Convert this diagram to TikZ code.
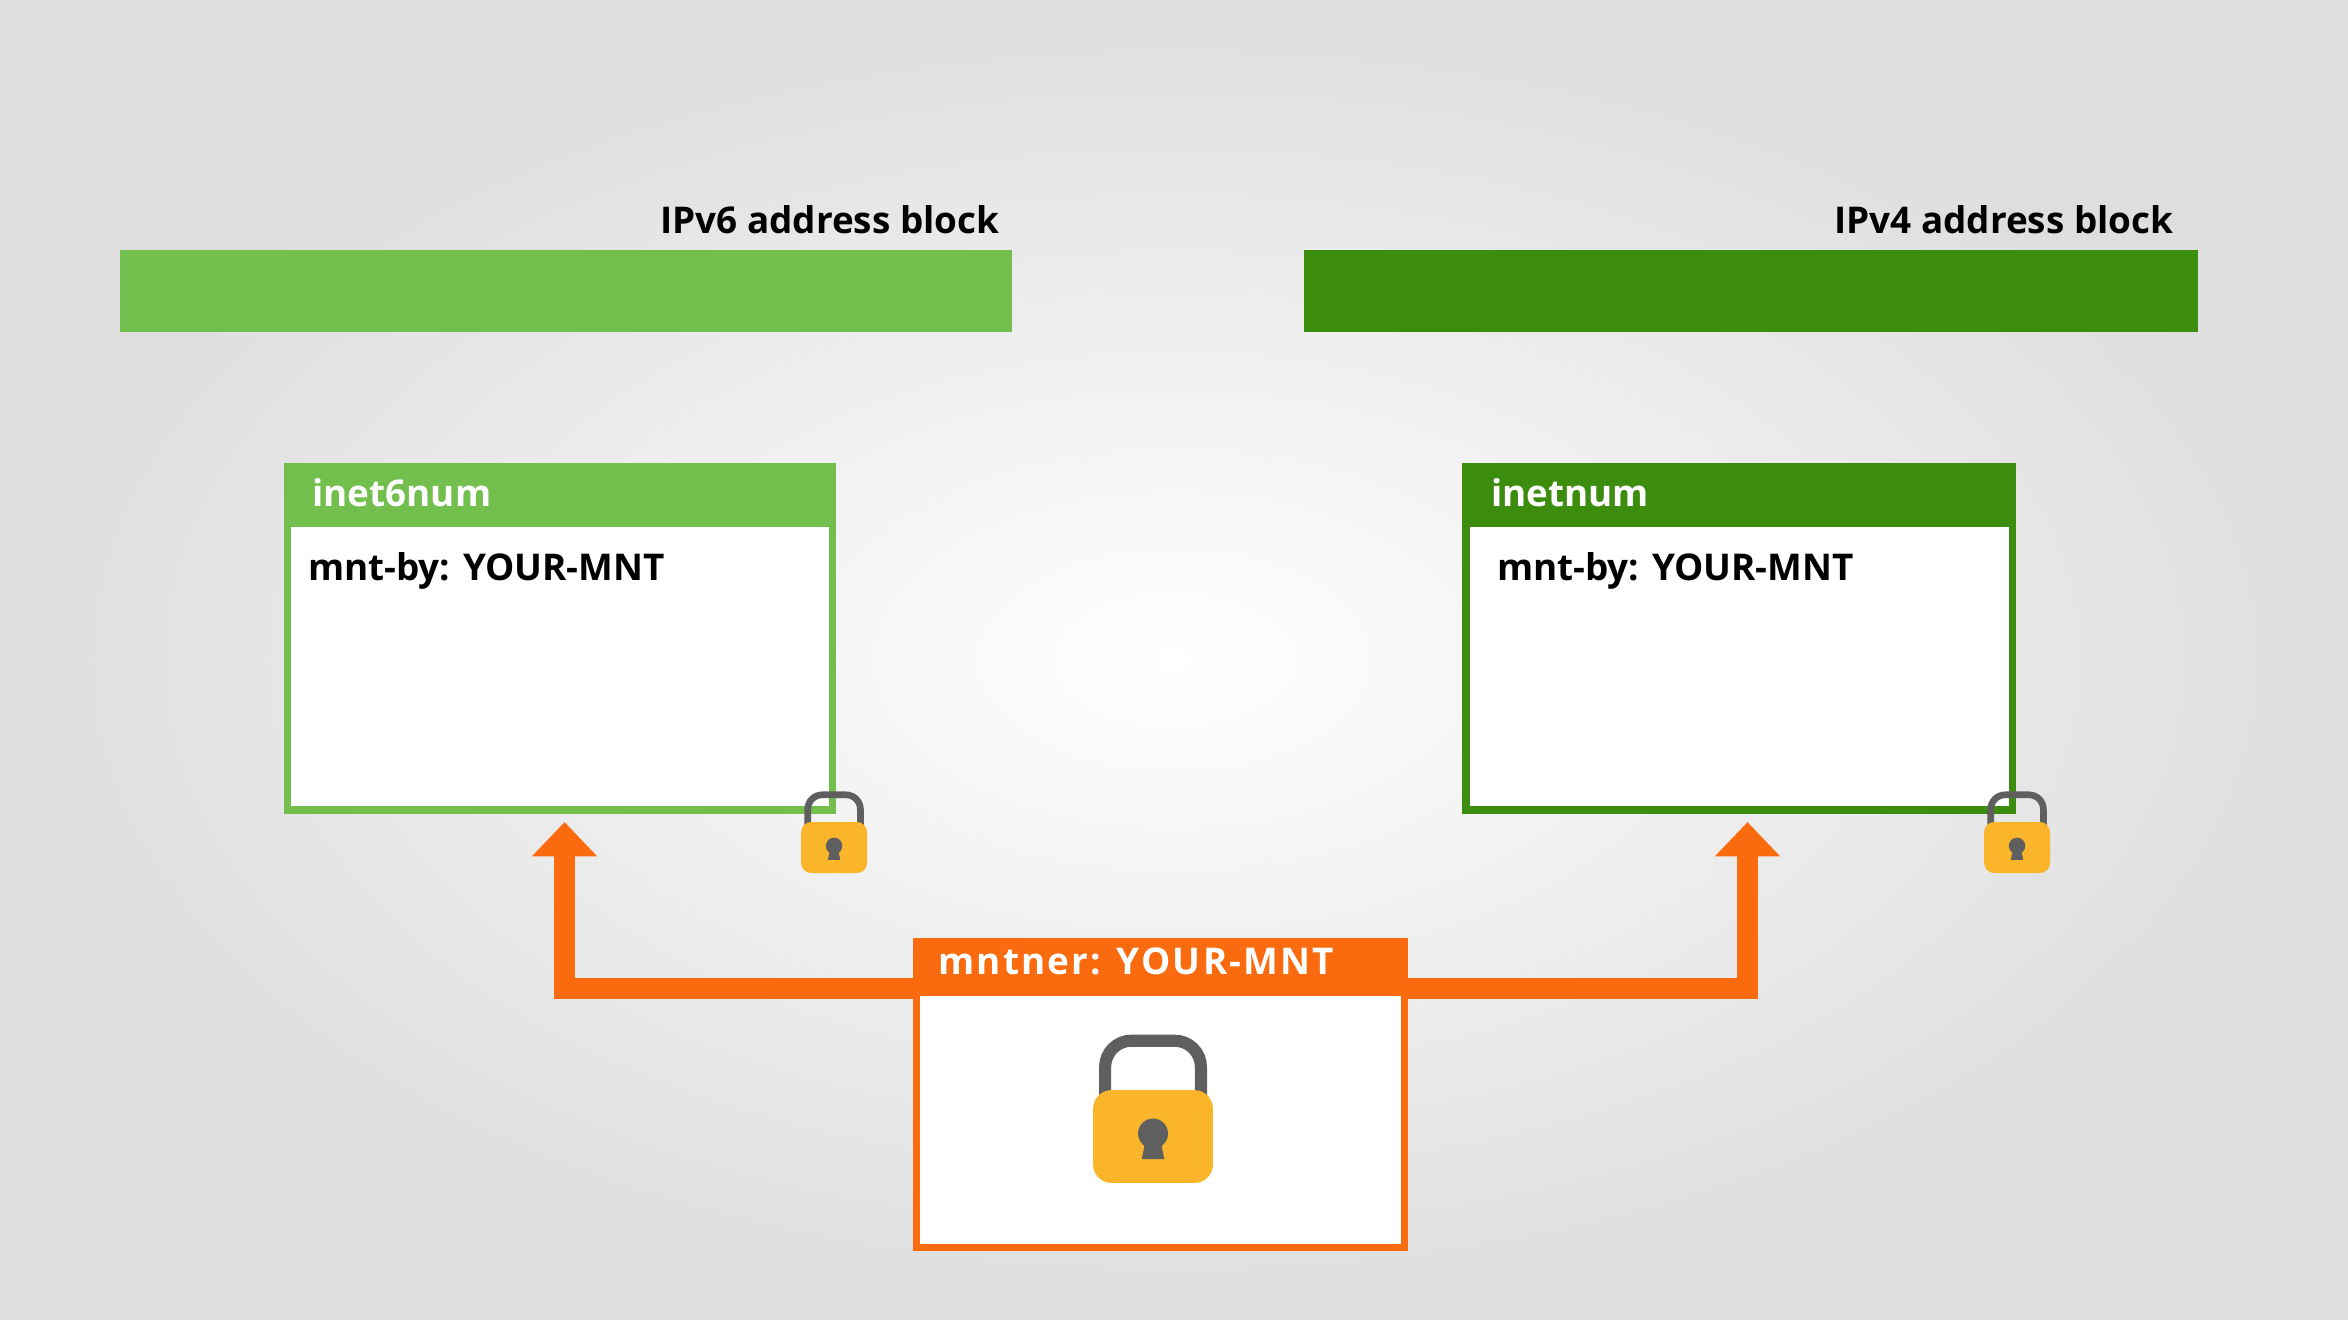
\documentclass[tikz,border=0pt]{standalone}
\usepackage{fontspec}
\setmainfont{Open Sans}
\usetikzlibrary{positioning,arrows.meta,calc}
\definecolor{lgreen}{HTML}{72BF4E}
\definecolor{dgreen}{HTML}{3C8C0E}
\definecolor{orng}{HTML}{F96B0E}
\definecolor{lockbody}{HTML}{FBB52B}
\definecolor{lockgray}{HTML}{5F5F5F}
\tikzset{
  lbl/.style={font=\bfseries\fontsize{7}{8}\selectfont, inner sep=0pt},
  body/.style={draw=#1, line width=1.4pt, fill=white, inner sep=0pt},
  link/.style={draw=orng, line width=4pt, -{Triangle[width=12pt,length=6.5pt]}},
}
% a padlock: #1 centre of body, #2 scale
\newcommand{\padlock}[2]{%
  \begin{scope}[shift={#1}, scale=#2]
    \draw[lockgray, line width=0.23pt*#2, rounded corners=0.5pt*#2] (-3.2,-2) -- (-3.2,-6.4) -- (3.2,-6.4) -- (3.2,-2);
    \fill[lockbody, rounded corners=0.35pt*#2] (-4,-3.1) rectangle (4,3.1);
    \fill[lockgray] (0,-0.2) circle[radius=1];
    \fill[lockgray] (-0.45,0) -- (0.45,0) -- (0.75,1.5) -- (-0.75,1.5) -- cycle;
  \end{scope}}
\begin{document}
\begin{tikzpicture}[x=0.1mm, y=-0.1mm]
  \shade[inner color=white, outer color=black!13] (0,0) rectangle (1568,881);
  \useasboundingbox (0,0) rectangle (1568,881);

  % address blocks
  \fill[lgreen] (80,167) rectangle (676,222);
  \fill[dgreen] (871,167) rectangle (1468,222);
  \node[lbl, anchor=base east] (v6) at (668,156) {IPv6 address block};
  \node[lbl, anchor=base east] (v4) at (1452,156) {IPv4 address block};

  % objects
  \draw[body=lgreen] (192,312) rectangle (556,541);
  \fill[lgreen] (190,310) rectangle (558,352);
  \node[lbl, white, anchor=base west] (i6) at (208,338) {inet6num};
  \node[lbl, anchor=base west] (i6m) at (205,388) {mnt-by: YOUR-MNT};
  \coordinate (i6tip) at (377,549);

  \draw[body=dgreen] (979,312) rectangle (1344,541);
  \fill[dgreen] (977,310) rectangle (1346,352);
  \node[lbl, white, anchor=base west] (i4) at (995,338) {inetnum};
  \node[lbl, anchor=base west] (i4m) at (999,388) {mnt-by: YOUR-MNT};
  \coordinate (i4tip) at (1167,549);

  \draw[body=orng] (612,629) rectangle (938,833);
  \fill[orng] (610,627) rectangle (940,665);
  \node[lbl, white, anchor=base west] (mnt) at (626,651) {\addfontfeature{LetterSpace=6}mntner: YOUR-MNT};
  \coordinate (mntL) at (611,660);
  \coordinate (mntR) at (939,660);

  % links
  \draw[link] (mntL) -| (i6tip);
  \draw[link] (mntR) -| (i4tip);

  % locks
  \padlock{(557,566)}{5.5}
  \padlock{(1347,566)}{5.5}
  \padlock{(770,759)}{10}
\end{tikzpicture}
\end{document}
